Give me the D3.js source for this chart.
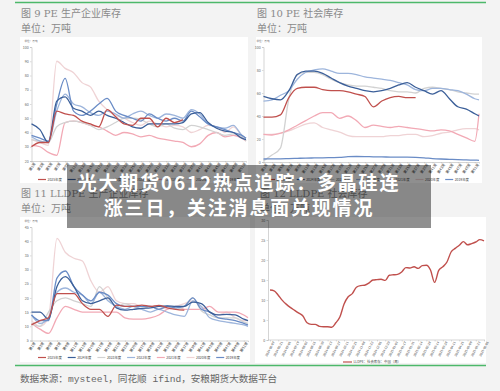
<!DOCTYPE html>
<html><head><meta charset="utf-8">
<script src="https://cdn.jsdelivr.net/npm/d3@7"></script>
<style>
html,body{margin:0;padding:0;background:#f3f3f3;}
svg{display:block;}
</style></head><body>
<svg id="c" width="500" height="391"></svg>
<script>
// ---------- data ----------
const years = ["2025年度","2024年度","2023年度","2022年度","2021年度","2020年度","2019年度"];
const weeks = [1,3,5,7,9,11,13,15,17,19,21,23,25,27,29,31,33,35,37,39,41,43,45,47,49,51,52];
const weekTicks = [1,3,5,7,9,11,13,15,17,19,21,23,25,27,29,31,33,35,37,39,41,43,45,47,49,51];

// 图9 PE 生产企业库存
const peProd2025 = [30,33,33,55,53,52,48,46,44,56,51,46,45,50,50,44,50,47,49,null,null,null,null,null,null,null,null];
const peProd2024 = [46,42,33,62,65,57,55,52,55,52,50,47,44,43,46,46,46,46,47,53,54,47,43,41,40,36,35];
const peProd2023 = [35,34,33,44,47,48,47,45,42,44,47,50,50,49,46,44,46,43,42,45,44,42,40,38,39,37,34];
const peProd2022 = [37,34,33,55,67,60,58,54,52,55,53,50,53,55,52,50,53,52,50,56,53,46,44,43,45,38,36];
const peProd2021 = [31,30,26,24,47,48,47,45,44,41,38,40,39,37,38,36,35,34,33,30,32,38,40,37,38,36,34];
const peProd2020 = [35,33,31,90,85,82,75,72,62,56,52,50,47,45,48,46,44,45,44,40,42,45,44,40,44,38,36];
const peProd2019 = [38,36,34,60,78,55,52,55,60,64,55,52,50,48,53,50,48,50,48,55,51,46,44,42,40,38,36];

// 图10 PE 社会库存
const peSoc2025 = [39,39,41,56,64,65,65,63,62,62,61,59,57,48,53,56,57,56,56,null,null,null,null,null,null,null,null];
const peSoc2024 = [57,55,54,62,76,79,79,77,73,69,66,64,62,61,62,64,67,69,65,62,59,62,55,48,46,42,40];
const peSoc2023 = [1,6,12,55,76,78,78,76,72,69,67,66,66,65,64,62,61,61,60,64,65,64,63,61,60,59,59];
const peSoc2022 = [53,54,58,62,72,78,80,81,79,77,77,76,74,73,72,71,69,67,63,62,64,64,63,62,59,55,54];
const peSoc2021 = [24,23.5,25,28,32,36,40,43,43,38,40,36,30,32,31,30,31,30,29,28,27,28,27,24,21,18,42];
const peSoc2020 = [24,24,25,27,30,33,34,30,28,26,23,22,22,22,22,23,23,24,24,22,23,25,26,28,29,29,28];
const peSoc2019 = [2.6,2.7,2.8,3,3.2,3.4,3.5,3.6,3.8,4,4.6,4.8,4.7,4.5,4.4,4.3,4.2,4.2,4,3.6,3,2.6,2.3,2,1.8,1.6,1.5];

// 图11 LLDPE 生产企业库存
const llProd2025 = [10.5,12,13,21.5,21.5,21.5,18,16,16,13.5,17.5,17,17,17.5,17,17.4,16.5,16,15.7,null,null,null,null,null,null,null,null];
const llProd2024 = [15,15,12.5,24,27.5,24,19,18,19,20,16.5,15.7,16,16.3,16.5,17,17.2,17,17,18.5,18,15,14,14.2,14,12.5,12];
const llProd2023 = [11,10,15,19,20,19,18,17,24,20,17,18,17,16,17,16,17,16,17,20,15.5,14,13,13,13,11.5,11];
const llProd2022 = [14,11,13,22,23.5,22,21,18,22,19,17,16,17,16,15,16,15,14,13.5,19,17,13,12,11.5,11,10.5,10];
const llProd2021 = [11,9,7.5,13,17,16,15,15,15,15,15,13,12.5,12.5,13,14,16,17,16,16,16,17,15,15,15,14,13];
const llProd2020 = [12,10,13,41,36,34,33,26,22,24,19,18,18,17,17,17,16,17,18,19,17,15,14,15,13,12,12];
const llProd2019 = [14,12,12,27,29.5,24,21,19,22,21,18,17,17,17,17,16,17,16.5,17,20,16,15,13,12.5,12,11,10.5];

// 图12 LLDPE 社会库存
const llSocDates = ["2024-06-07","2024-06-14","2024-06-21","2024-06-28","2024-07-05","2024-07-12","2024-07-19","2024-07-26","2024-08-02","2024-08-09","2024-08-16","2024-08-23","2024-08-30","2024-09-06","2024-09-13","2024-09-20","2024-09-27","2024-10-04","2024-10-11","2024-10-18","2024-10-25","2024-11-01","2024-11-08","2024-11-15","2024-11-22","2024-11-29","2024-12-06","2024-12-13","2024-12-20","2024-12-27","2025-01-03","2025-01-10","2025-01-17","2025-01-24","2025-01-31","2025-02-07","2025-02-14","2025-02-21","2025-02-28","2025-03-07","2025-03-14","2025-03-21","2025-03-28","2025-04-04","2025-04-11","2025-04-18","2025-04-25","2025-05-02","2025-05-09","2025-05-16","2025-05-23","2025-05-30","2025-06-06"];
const llSocValues = [12.5,12.3,11.2,9.9,8.9,8.1,7.4,6.7,6.0,4.3,3.9,3.9,3.4,3.3,3.3,3.2,4.3,5.8,9.0,10.8,11.6,13.2,13.6,13.7,14.2,15.0,15.1,15.2,14.9,16.2,16.3,16.4,17.0,18.1,18.0,18.3,17.9,18.6,18.7,17.5,14.4,17.4,18.3,19.5,22.0,22.9,23.7,24.6,23.8,24.1,24.5,25.1,24.8];

// ---------- styles ----------
const yearColors = ["#c0504d","#3b5f99","#d2d2d2","#9db5dc","#f2a9b5","#efd3d5","#6a8cc6"];
const drawOrder = [5,4,2,3,6,1,0];
const svg = d3.select("#c");
const CJK = "'Noto Sans CJK SC', sans-serif";
const SERIF = "'DejaVu Serif','Liberation Serif','Noto Sans CJK SC',serif";

// page frame
svg.append("line").attr("x1",15).attr("x2",486).attr("y1",2.5).attr("y2",2.5).attr("stroke","#4cb86a").attr("stroke-width",1.6);
svg.append("line").attr("x1",15).attr("x2",486).attr("y1",365.5).attr("y2",365.5).attr("stroke","#4cb86a").attr("stroke-width",1.6);

function panelTitle(x, y, t) {
  svg.append("text").attr("x",x).attr("y",y).text(t).attr("font-family",SERIF).attr("font-size",10).attr("fill","#8a8a8a");
  svg.append("text").attr("x",x).attr("y",y+14.5).text("单位：万吨").attr("font-family",SERIF).attr("font-size",10).attr("fill","#8a8a8a");
}
panelTitle(21,17,"图 9 PE 生产企业库存");
panelTitle(257,17,"图 10 PE 社会库存");
panelTitle(21,197,"图 11 LLDPE 生产企业库存");
panelTitle(260,197,"图 12 LLDPE 社会库存");

// white plot boxes
[[20,37,228,146],[256,37,226,146],[20,217,230,145],[255,217,231,146]].forEach(r=>{
  svg.append("rect").attr("x",r[0]).attr("y",r[1]).attr("width",r[2]).attr("height",r[3]).attr("fill","#fff");
});

function styleAxis(s){
  s.select(".domain").attr("stroke","#b8b8b8").attr("stroke-width",0.6);
  s.selectAll(".tick line").attr("stroke","#b8b8b8").attr("stroke-width",0.5);
  s.selectAll("text").attr("font-size",3.6).attr("fill","#666").attr("font-family",CJK);
}

function seasonal(cfg) {
  const g = svg.append("g");
  const x = d3.scaleLinear().domain([1,52]).range([cfg.x0,cfg.x1]);
  const y = d3.scaleLinear().domain(cfg.yDomain).range([cfg.yb,cfg.yt]);
  g.append("g").attr("transform",`translate(${cfg.x0},0)`)
    .call(d3.axisLeft(y).tickValues(cfg.yTicks).tickSize(1.5).tickPadding(1.2))
    .call(styleAxis);
  const xa = g.append("g").attr("transform",`translate(0,${cfg.yb})`)
    .call(d3.axisBottom(x).tickValues(weekTicks).tickFormat(w=>"第"+w+"周").tickSize(1.5).tickPadding(1))
    .call(styleAxis);
  xa.selectAll("text").attr("text-anchor","end").attr("dx",0).attr("dy",2.3)
    .attr("transform","rotate(-55)").attr("font-size",3.6).attr("fill","#333");
  g.append("text").attr("x",cfg.x0-7).attr("y",cfg.yt-5).text("单位：万吨")
    .attr("font-size",2.6).attr("fill","#666").attr("font-family",CJK);
  const line = d3.line().defined(d=>d[1]!=null).x(d=>x(d[0])).y(d=>y(d[1])).curve(d3.curveMonotoneX);
  drawOrder.forEach(i=>{
    const pts = weeks.map((w,k)=>[w,cfg.series[i][k]]);
    g.append("path").attr("d",line(pts)).attr("fill","none")
      .attr("stroke",yearColors[i]).attr("stroke-width",1.3).attr("stroke-linejoin","round");
  });
  years.forEach((nm,i)=>{
    const lx = cfg.lx + i*29.7;
    g.append("line").attr("x1",lx).attr("x2",lx+8).attr("y1",cfg.ly).attr("y2",cfg.ly)
      .attr("stroke",yearColors[i]).attr("stroke-width",1.2);
    g.append("text").attr("x",lx+9.5).attr("y",cfg.ly+1.2).text(nm)
      .attr("font-size",3.4).attr("fill","#444").attr("font-family",CJK);
  });
}

seasonal({x0:31.5,x1:246,yt:47,yb:161,yDomain:[20,100],yTicks:[20,30,40,50,60,70,80,90,100],
  series:[peProd2025,peProd2024,peProd2023,peProd2022,peProd2021,peProd2020,peProd2019],lx:38,ly:179.5});
seasonal({x0:263.5,x1:479,yt:47,yb:162,yDomain:[0,100],yTicks:[0,20,40,60,80,100],
  series:[peSoc2025,peSoc2024,peSoc2023,peSoc2022,peSoc2021,peSoc2020,peSoc2019],lx:267,ly:179.5});
seasonal({x0:31.5,x1:248,yt:227,yb:340.5,yDomain:[5,45],yTicks:[5,10,15,20,25,30,35,40,45],
  series:[llProd2025,llProd2024,llProd2023,llProd2022,llProd2021,llProd2020,llProd2019],lx:38,ly:357.5});

// 图12 single line
(function(){
  const g = svg.append("g");
  const x = d3.scalePoint().domain(llSocDates).range([270,484]);
  const y = d3.scaleLinear().domain([0,30]).range([340,220]);
  g.append("g").attr("transform","translate(268,0)")
    .call(d3.axisLeft(y).tickValues([0,5,10,15,20,25,30]).tickSize(1.5).tickPadding(1.2)).call(styleAxis);
  const xa = g.append("g").attr("transform","translate(0,340)")
    .call(d3.axisBottom(x).tickValues(llSocDates.filter((d,i)=>i%2===0)).tickSize(1.5).tickPadding(1))
    .call(styleAxis);
  xa.select(".domain").attr("d","M268,0H485");
  xa.selectAll("text").attr("text-anchor","end").attr("dy",2.3).attr("transform","rotate(-62)")
    .attr("font-size",3.2).attr("fill","#333");
  const line = d3.line().x((d,i)=>x(llSocDates[i])).y(d=>y(d)).curve(d3.curveMonotoneX);
  g.append("path").attr("d",line(llSocValues)).attr("fill","none").attr("stroke","#c0504d").attr("stroke-width",1.4);
  g.append("line").attr("x1",343).attr("x2",352).attr("y1",362).attr("y2",362).attr("stroke","#c0504d").attr("stroke-width",1.2);
  g.append("text").attr("x",353.5).attr("y",363.2).text("LLDPE：社会库存：中国（周）")
    .attr("font-size",3.4).attr("fill","#444").attr("font-family",CJK);
})();

// source
svg.append("text").attr("x",20).attr("y",382).text("数据来源：mysteel，同花顺 ifind，安粮期货大数据平台")
  .attr("font-family","'Liberation Mono','Noto Sans CJK SC',monospace").attr("font-size",9.6).attr("fill","#666");

// overlay banner
svg.append("rect").attr("x",67).attr("y",165).attr("width",364).attr("height",63).attr("fill","rgba(0,0,0,0.44)");
const bt = [["光大期货0612热点追踪：多晶硅连",189.5],["涨三日，关注消息面兑现情况",215]];
bt.forEach(b=>{
  svg.append("text").attr("x",239).attr("y",b[1]).attr("text-anchor","middle").text(b[0])
    .attr("font-family",CJK).attr("font-weight",700).attr("font-size",19).attr("letter-spacing",1.8).attr("fill","#fff");
});
</script>
</body></html>
